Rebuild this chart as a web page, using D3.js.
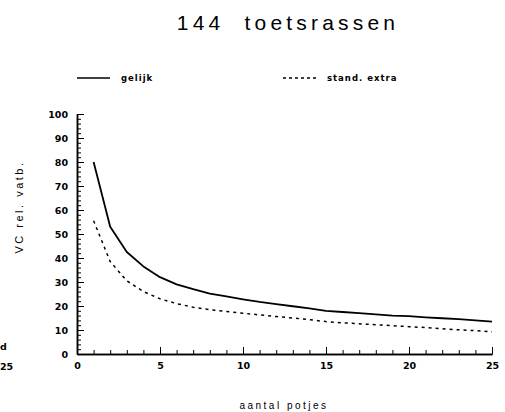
<!DOCTYPE html>
<html>
<head>
<meta charset="utf-8">
<script src="https://cdn.jsdelivr.net/npm/d3@7"></script>
<style>
  body { margin: 0; background: #fff; }
  svg { display: block; }
  .tick text { font-family: "DejaVu Sans", sans-serif; font-weight: bold; font-size: 9.5px; fill: #000; }
  .axis path, .axis line { stroke: #000; }
</style>
</head>
<body>
<div id="chart"></div>
<script>
// aantal potjes (x) en VC rel. vatb. (y)
const potjes = [1, 2, 3, 4, 5, 6, 7, 8, 9, 10, 11, 12, 13, 14, 15, 16, 17, 18, 19, 20, 21, 22, 23, 24, 25];
const gelijk = [80, 53, 42.5, 36.5, 32, 29, 27, 25.2, 24, 22.8, 21.7, 20.8, 19.9, 19, 18, 17.5, 17, 16.5, 16, 15.8, 15.3, 14.9, 14.5, 14, 13.5];
const standExtra = [55.5, 38.5, 30.5, 26, 23, 21, 19.5, 18.5, 17.7, 17, 16.3, 15.6, 15, 14.3, 13.5, 13, 12.6, 12.2, 11.8, 11.4, 11, 10.5, 10.1, 9.7, 9.3];
const xTicks = [0, 5, 10, 15, 20, 25];
const yTicks = [0, 10, 20, 30, 40, 50, 60, 70, 80, 90, 100];

const width = 505;
const height = 412;
const margin = { left: 77, right: 13, top: 114, bottom: 58 };

const svg = d3.select("#chart").append("svg")
  .attr("width", width)
  .attr("height", height);

const xScale = d3.scaleLinear().domain([0, 25]).range([margin.left, width - margin.right]);
const yScale = d3.scaleLinear().domain([0, 100]).range([height - margin.bottom, margin.top]);

// titel
svg.append("text")
  .attr("x", 288)
  .attr("y", 30)
  .attr("text-anchor", "middle")
  .style("font-family", "Liberation Sans, Arial, sans-serif")
  .style("font-size", "21px")
  .style("letter-spacing", "4.2px")
  .style("white-space", "pre")
  .text("144  toetsrassen");

// legenda
const legend = [
  { label: "gelijk", x: 77, dash: null },
  { label: "stand. extra", x: 283, dash: "3,3" }
];
legend.forEach(l => {
  svg.append("line")
    .attr("x1", l.x).attr("x2", l.x + 33)
    .attr("y1", 78).attr("y2", 78)
    .attr("stroke", "#000")
    .attr("stroke-width", l.dash ? 1.3 : 1.6)
    .attr("stroke-dasharray", l.dash);
  svg.append("text")
    .attr("x", l.x + 44)
    .attr("y", 81)
    .style("font-family", "DejaVu Sans, sans-serif")
    .style("font-weight", "bold")
    .style("font-size", "8.5px")
    .style("letter-spacing", "1px")
    .text(l.label);
});

// assen
const yAxisMinor = d3.axisLeft(yScale)
  .tickValues(d3.range(0, 101, 2))
  .tickSizeInner(-4)
  .tickSizeOuter(0)
  .tickFormat("");
const yAxis = d3.axisLeft(yScale)
  .tickValues(yTicks)
  .tickSizeInner(-7)
  .tickSizeOuter(0)
  .tickPadding(9);

const xAxisMinor = d3.axisBottom(xScale)
  .tickValues(d3.range(0, 26, 1))
  .tickSizeInner(-4)
  .tickSizeOuter(0)
  .tickFormat("");
const xAxis = d3.axisBottom(xScale)
  .tickValues(xTicks)
  .tickSizeInner(-7)
  .tickSizeOuter(0)
  .tickPadding(8);

svg.append("g").attr("class", "axis")
  .attr("transform", `translate(${margin.left},0)`)
  .call(yAxisMinor);
svg.append("g").attr("class", "axis")
  .attr("transform", `translate(${margin.left},0)`)
  .call(yAxis);
svg.append("g").attr("class", "axis")
  .attr("transform", `translate(0,${height - margin.bottom})`)
  .call(xAxisMinor);
svg.append("g").attr("class", "axis")
  .attr("transform", `translate(0,${height - margin.bottom})`)
  .call(xAxis);
svg.selectAll(".axis path").attr("stroke-width", 1.5);

// aslabels
svg.append("text")
  .attr("transform", `translate(23,207) rotate(-90)`)
  .attr("text-anchor", "middle")
  .style("font-family", "Liberation Sans, Arial, sans-serif")
  .style("font-size", "11px")
  .style("letter-spacing", "2.5px")
  .text("VC rel. vatb.");

svg.append("text")
  .attr("x", 284)
  .attr("y", 409)
  .attr("text-anchor", "middle")
  .style("font-family", "Liberation Sans, Arial, sans-serif")
  .style("font-size", "10px")
  .style("letter-spacing", "2.5px")
  .text("aantal potjes");

// restanten van de naastliggende figuur
svg.append("text").attr("x", 0).attr("y", 350)
  .style("font-family", "DejaVu Sans, sans-serif").style("font-weight", "bold").style("font-size", "9.5px")
  .text("d");
svg.append("text").attr("x", 0).attr("y", 370)
  .style("font-family", "DejaVu Sans, sans-serif").style("font-weight", "bold").style("font-size", "9.5px")
  .text("25");

// lijnen
const line = d3.line()
  .x((d, i) => xScale(potjes[i]))
  .y(d => yScale(d));

svg.append("path")
  .attr("fill", "none")
  .attr("stroke", "#000")
  .attr("stroke-width", 1.8)
  .attr("stroke-linejoin", "round")
  .attr("d", line(gelijk));

svg.append("path")
  .attr("fill", "none")
  .attr("stroke", "#000")
  .attr("stroke-width", 1.5)
  .attr("stroke-dasharray", "3,4")
  .attr("d", line(standExtra));
</script>
</body>
</html>
